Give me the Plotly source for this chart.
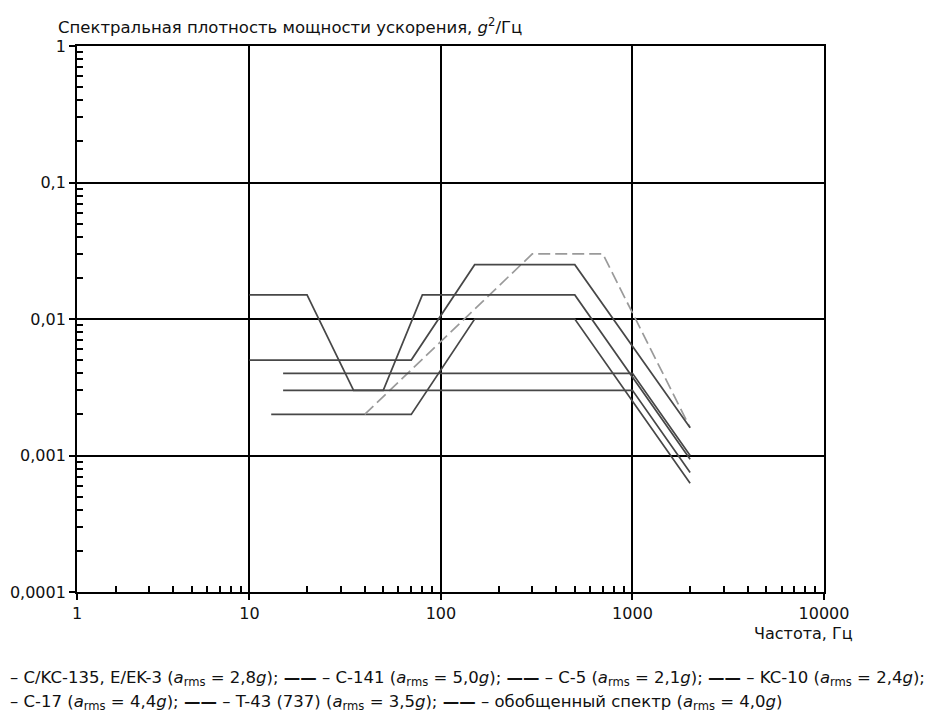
import plotly.graph_objects as go

# ---- data ----
names = ["C/KC-135, E/EK-3", "C-141", "C-5", "KC-10", "C-17", "T-43 (737)"]
f_kc135 = [13, 70, 150, 500, 2000]
p_kc135 = [0.002, 0.002, 0.01, 0.01, 0.000625]
f_c141 = [40, 300, 700, 2000]
p_c141 = [0.002, 0.03, 0.03, 0.0016]
f_c5 = [15, 1000, 2000]
p_c5 = [0.003, 0.003, 0.00075]
f_kc10 = [15, 1000, 2000]
p_kc10 = [0.004, 0.004, 0.001]
f_c17 = [10, 70, 150, 500, 2000]
p_c17 = [0.005, 0.005, 0.025, 0.025, 0.0016]
f_t43 = [10, 20, 35, 50, 80, 500, 2000]
p_t43 = [0.015, 0.015, 0.003, 0.003, 0.015, 0.015, 0.00094]

x_ticktext = ["1", "10", "100", "1000", "10000"]
y_tickvals = [0.0001, 0.001, 0.01, 0.1, 1]
y_ticktext = ["0,0001", "0,001", "0,01", "0,1", "1"]

FONT = "DejaVu Sans, Verdana, sans-serif"
dark = "#474747"
light = "#9a9a9a"

fig = go.Figure()
series = [
    (f_kc135, p_kc135, dark, "solid"),
    (f_c141, p_c141, light, "12px,5px"),
    (f_c5, p_c5, dark, "solid"),
    (f_kc10, p_kc10, dark, "solid"),
    (f_c17, p_c17, dark, "solid"),
    (f_t43, p_t43, dark, "solid"),
]
for name, (fx, py, col, dash) in zip(names, series):
    fig.add_trace(go.Scatter(x=fx, y=py, mode="lines", name=name,
                             line=dict(color=col, width=1.7, dash=dash),
                             showlegend=False))

# page has an 8px body margin; figure sized so plot area lands where the reference has it
OFF = 8
W, H = 933, 707
L, R, T, B = 69, 117, 38, 123
PW = W - L - R
PH = H - T - B

def xp(px):   # window px -> paper x
    return (px - OFF - L) / PW

def yp(py):   # window px -> paper y
    return (OFF + T + PH - py) / PH

# the reference's first decade is drawn compressed; the axis starts at its "1" label
X0 = 0.1
x_tickvals = [10 ** X0, 10, 100, 1000, 10000]
x_minor = [m * 10 ** d for d in range(0, 4) for m in range(2, 10)]
y_minor = [m * 10.0 ** d for d in range(-4, 0) for m in range(2, 10)]

axis_common = dict(
    type="log", showgrid=True, gridcolor="black", gridwidth=1.8,
    showline=True, linecolor="black", linewidth=1.8, mirror=True,
    ticks="outside", ticklen=6, tickcolor="black", tickwidth=1.5,
    zeroline=False, automargin=False, tickfont=dict(size=16, color="#111"),
)
fig.update_layout(
    width=W, height=H,
    margin=dict(l=L, r=R, t=T, b=B),
    paper_bgcolor="white", plot_bgcolor="white",
    font=dict(family=FONT, size=16, color="#111"),
    xaxis=dict(range=[X0, 4], tickvals=x_tickvals, ticktext=x_ticktext,
               minor=dict(tickmode="array", tickvals=x_minor, ticks="inside", ticklen=6,
                          tickcolor="black", tickwidth=1.5, showgrid=False),
               **axis_common),
    yaxis=dict(range=[-4, 0], tickvals=y_tickvals, ticktext=y_ticktext,
               minor=dict(tickmode="array", tickvals=y_minor, ticks="inside", ticklen=6,
                          tickcolor="black", tickwidth=1.5, showgrid=False),
               **axis_common),
)

ann = []
ann.append(dict(text="Спектральная плотность мощности ускорения, <i>g</i><sup>2</sup>/Гц",
                xref="paper", yref="paper", x=xp(56), y=yp(26),
                xanchor="left", yanchor="middle", showarrow=False, font=dict(size=16.5)))
ann.append(dict(text="Частота, Гц", xref="paper", yref="paper", x=xp(855), y=yp(633),
                xanchor="right", yanchor="middle", showarrow=False, font=dict(size=16)))

a = "<i>a</i><sub>rms</sub>"
sym = "<b>——</b>"
row1 = (f"– C/KC-135, E/EK-3 ({a} = 2,8<i>g</i>); {sym} – C-141 ({a} = 5,0<i>g</i>); "
        f"{sym} – C-5 ({a} = 2,1<i>g</i>); {sym} – KC-10 ({a} = 2,4<i>g</i>);")
row2 = (f"– C-17 ({a} = 4,4<i>g</i>); {sym} – T-43 (737) ({a} = 3,5<i>g</i>); "
        f"{sym} – обобщенный спектр ({a} = 4,0<i>g</i>)")
ann.append(dict(text=row1, xref="paper", yref="paper", x=xp(8), y=yp(679),
                xanchor="left", yanchor="middle", showarrow=False, font=dict(size=16.5)))
ann.append(dict(text=row2, xref="paper", yref="paper", x=xp(8), y=yp(702),
                xanchor="left", yanchor="middle", showarrow=False, font=dict(size=16.5)))
fig.update_layout(annotations=ann)

fig.write_html("out.html")
